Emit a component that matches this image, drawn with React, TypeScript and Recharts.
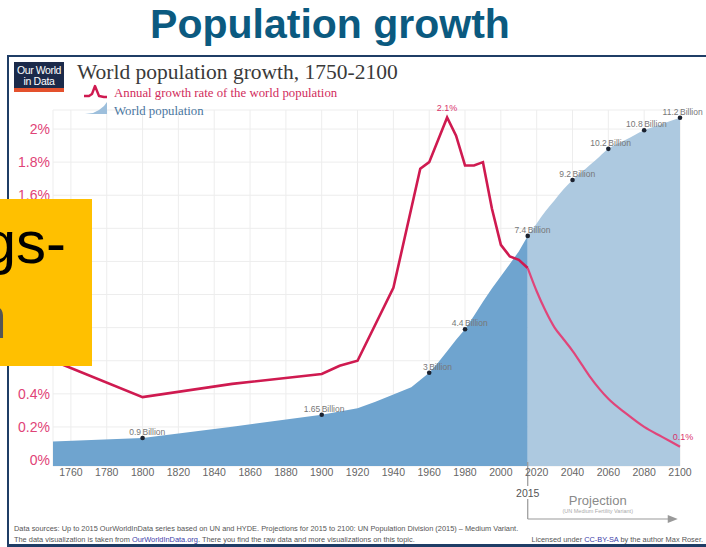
import React from "react";
import {
  ComposedChart,
  Area,
  Line,
  XAxis,
  YAxis,
  CartesianGrid,
  LabelList,
  ReferenceLine,
} from "recharts";

// values (population in billions, growth in % per year)
const historyYears = [
  1750, 1800, 1850, 1900, 1910, 1920, 1930, 1940, 1950, 1955, 1960, 1965,
  1970, 1975, 1980, 1985, 1990, 1995, 2000, 2005, 2010, 2015,
];
const historyPopulation = [
  0.79, 0.9, 1.26, 1.65, 1.75, 1.86, 2.07, 2.3, 2.53, 2.77, 3.0, 3.33, 3.69,
  4.06, 4.4, 4.83, 5.28, 5.71, 6.1, 6.5, 6.9, 7.4,
];
const historyGrowth = [
  0.6, 0.38, 0.46, 0.52, 0.57, 0.6, null, 1.04, null, 1.76, 1.8, null, 2.07,
  1.96, 1.78, 1.78, 1.8, 1.52, 1.3, 1.23, 1.21, 1.16,
];

const projectionYears = [
  2015, 2020, 2025, 2030, 2035, 2040, 2045, 2050, 2055, 2060, 2070, 2080, 2090,
  2100,
];
const projectionPopulation = [
  7.4, 7.8, 8.2, 8.55, 8.9, 9.2, 9.45, 9.7, 9.95, 10.2, 10.5, 10.8, 11.0, 11.2,
];
const projectionGrowth = [
  1.16, 1.02, 0.9, 0.8, 0.73, 0.66, 0.58, 0.5, 0.43, 0.37, 0.28, 0.2, 0.14,
  0.08,
];

const markYears = [1800, 1900, 1960, 1980, 2015, 2040, 2060, 2080, 2100];
const markValues = [0.9, 1.65, 3, 4.4, 7.4, 9.2, 10.2, 10.8, 11.2];
const markLabels = ["0.9", "1.65", "3", "4.4", "7.4", "9.2", "10.2", "10.8", "11.2"];

const yearTicks = [
  1760, 1780, 1800, 1820, 1840, 1860, 1880, 1900, 1920, 1940, 1960, 1980,
  2000, 2020, 2040, 2060, 2080, 2100,
];
const growthTicks = [0, 0.2, 0.4, 0.6, 0.8, 1, 1.2, 1.4, 1.6, 1.8, 2];

const peakLabel = "2.1%";
const endLabel = "0.1%";

const allYears = Array.from(new Set([...historyYears, ...projectionYears])).sort(
  (a, b) => a - b
);
const chartData = allYears.map((year) => {
  const h = historyYears.indexOf(year);
  const p = projectionYears.indexOf(year);
  const m = markYears.indexOf(year);
  return {
    year,
    popHistory: h >= 0 ? historyPopulation[h] : null,
    popProjection: p >= 0 ? projectionPopulation[p] : null,
    growthHistory: h >= 0 ? historyGrowth[h] : null,
    growthProjection: p >= 0 ? projectionGrowth[p] : null,
    mark: m >= 0 ? markValues[m] : null,
    markLabel: m >= 0 ? markLabels[m] : null,
  };
});

const peakGrowth = Math.max(...(historyGrowth.filter((v) => v != null) as number[]));
const lastGrowth = projectionGrowth[projectionGrowth.length - 1];

const SANS = "'Liberation Sans', Arial, Helvetica, sans-serif";
const SERIF = "'Liberation Serif', 'DejaVu Serif', Georgia, serif";

function ProjectionMarker(props: any) {
  const x = props.x1;
  const bottom = Math.max(props.y1, props.y2);
  const arrowLen = 150;
  return (
    <g>
      <line x1={x} x2={x} y1={bottom - 4} y2={bottom + 20} stroke="#999" strokeWidth={1.2} />
      <text x={x} y={bottom + 31} textAnchor="middle" fontSize={10.5} fill="#555" fontFamily={SANS}>
        2015
      </text>
      <line x1={x} x2={x} y1={bottom + 33} y2={bottom + 53} stroke="#999" strokeWidth={1.2} />
      <line x1={x} x2={x + arrowLen - 6} y1={bottom + 53} y2={bottom + 53} stroke="#999" strokeWidth={1.2} />
      <polygon
        points={`${x + arrowLen},${bottom + 53} ${x + arrowLen - 10},${bottom + 49} ${x + arrowLen - 10},${bottom + 57}`}
        fill="#999"
      />
      <text x={x + 70} y={bottom + 39} textAnchor="middle" fontSize={13} fill="#8a8a8a" fontFamily={SANS}>
        Projection
      </text>
      <text x={x + 70} y={bottom + 47} textAnchor="middle" fontSize={5.5} fill="#aaa" fontFamily={SANS}>
        (UN Medium Fertility Variant)
      </text>
    </g>
  );
}

function MarkLabel(props: any) {
  const { x, y, value } = props;
  if (value == null || x == null || y == null) return null;
  return (
    <g fontSize={8.5} fill="#777" fontFamily={SANS}>
      <text x={x - 1.5} y={y - 3} textAnchor="end">
        {value}
      </text>
      <text x={x} y={y - 3} textAnchor="start">
        Billion
      </text>
    </g>
  );
}

function PeakLabel(props: any) {
  const { x, y, value } = props;
  if (value !== peakGrowth) return null;
  return (
    <text x={x} y={y - 6} textAnchor="middle" fontSize={9} fill="#d9336b" fontFamily={SANS}>
      {peakLabel}
    </text>
  );
}

function EndLabel(props: any) {
  const { x, y, value } = props;
  if (value !== lastGrowth) return null;
  return (
    <text x={x + 3} y={y - 7} textAnchor="middle" fontSize={9} fill="#d9336b" fontFamily={SANS}>
      {endLabel}
    </text>
  );
}

export default function App() {
  return (
    <div
      style={{
        position: "absolute",
        left: 0,
        top: 0,
        width: 706,
        height: 547,
        overflow: "hidden",
        background: "#fff",
        fontFamily: SANS,
      }}
    >
      <div
        style={{
          position: "absolute",
          left: 7,
          top: 55,
          width: 720,
          height: 487,
          borderLeft: "2px solid #1f3d66",
          borderTop: "2px solid #1f3d66",
          borderBottom: "3px solid #1f3d66",
        }}
      />

      <div style={{ position: "absolute", left: 0, top: 0 }}>
        <ComposedChart
          width={706}
          height={547}
          data={chartData}
          margin={{ top: 110, right: 26, bottom: 61, left: 0 }}
        >
          <CartesianGrid yAxisId="growth" stroke="#ededed" />
          <XAxis
            dataKey="year"
            type="number"
            domain={[1750, 2100]}
            ticks={yearTicks}
            interval={0}
            height={20}
            axisLine={false}
            tickLine={false}
            tickSize={0}
            tickMargin={3}
            tick={{ fontSize: 10.5, fill: "#666", fontFamily: SANS }}
          />
          <YAxis
            yAxisId="growth"
            domain={[-0.036, 2.115]}
            ticks={growthTicks}
            width={53}
            axisLine={false}
            tickLine={false}
            tickSize={0}
            tickMargin={3}
            tickFormatter={(v) => `${v}%`}
            tick={{ fontSize: 14, fill: "#df4377", fontFamily: SANS }}
          />
          <YAxis yAxisId="pop" orientation="right" hide domain={[0, 11.45]} />

          <Area
            yAxisId="pop"
            dataKey="popHistory"
            type="linear"
            stroke="none"
            fill="#6fa4cf"
            fillOpacity={1}
            isAnimationActive={false}
          />
          <Area
            yAxisId="pop"
            dataKey="popProjection"
            type="monotone"
            stroke="none"
            fill="#adc9e0"
            fillOpacity={1}
            isAnimationActive={false}
          />

          <ReferenceLine yAxisId="pop" x={2015} shape={ProjectionMarker} />

          <Line
            yAxisId="growth"
            dataKey="growthHistory"
            type="linear"
            stroke="#cf1a50"
            strokeWidth={2.6}
            dot={false}
            activeDot={false}
            connectNulls
            isAnimationActive={false}
          >
            <LabelList dataKey="growthHistory" content={PeakLabel} />
          </Line>
          <Line
            yAxisId="growth"
            dataKey="growthProjection"
            type="monotone"
            stroke="#e0457a"
            strokeWidth={2.2}
            dot={false}
            activeDot={false}
            connectNulls
            isAnimationActive={false}
          >
            <LabelList dataKey="growthProjection" content={EndLabel} />
          </Line>

          <Line
            yAxisId="pop"
            dataKey="mark"
            stroke="none"
            dot={{ r: 2.3, fill: "#1b2230", stroke: "none" }}
            activeDot={false}
            isAnimationActive={false}
          >
            <LabelList dataKey="markLabel" content={MarkLabel} />
          </Line>
        </ComposedChart>
      </div>

      <svg
        width={706}
        height={547}
        style={{ position: "absolute", left: 0, top: 0, pointerEvents: "none" }}
      >
        <text x={330} y={38} textAnchor="middle" fontSize={41} fontWeight="bold" fill="#0b5a80" fontFamily={SANS}>
          Population growth
        </text>

        <rect x={14} y={62} width={50} height={27} fill="#1b2a4a" />
        <rect x={14} y={88} width={50} height={4} fill="#e4512d" />
        <text x={39} y={74} textAnchor="middle" fontSize={10.5} fill="#fff" letterSpacing={-0.4} fontFamily={SANS}>
          Our World
        </text>
        <text x={39} y={85} textAnchor="middle" fontSize={10.5} fill="#fff" letterSpacing={-0.3} fontFamily={SANS}>
          in Data
        </text>

        <text x={77} y={79} fontSize={21.5} fill="#3a3a3a" fontFamily={SERIF}>
          World population growth, 1750-2100
        </text>

        <polyline
          points="84,96 89,96 92,94 95,86 99,96 104,97 107,97"
          fill="none"
          stroke="#cf1a50"
          strokeWidth={2.4}
          strokeLinejoin="round"
        />
        <text x={114} y={97} fontSize={12.8} fill="#d12c5c" fontFamily={SERIF}>
          Annual growth rate of the world population
        </text>
        <polygon points="85,114 93,113 99,110 104,106 107,102 107,114" fill="#9dbfdc" />
        <text x={114} y={115} fontSize={12.8} fill="#4a76a0" fontFamily={SERIF}>
          World population
        </text>

        <text x={14} y={531} fontSize={7.4} fill="#555" fontFamily={SANS}>
          Data sources:  Up to 2015 OurWorldInData series based on UN and HYDE. Projections for 2015 to 2100: UN Population Division (2015) – Medium Variant.
        </text>
        <text x={14} y={542} fontSize={7.4} fill="#555" fontFamily={SANS}>
          The data visualization is taken from <tspan fill="#3c3ca8">OurWorldInData.org</tspan>. There you find the raw data and more visualizations on this topic.
        </text>
        <text x={703} y={542} textAnchor="end" fontSize={7.4} fill="#555" fontFamily={SANS}>
          Licensed under <tspan fill="#3c3ca8">CC-BY-SA</tspan> by the author Max Roser.
        </text>
      </svg>

      <div
        style={{
          position: "absolute",
          left: 0,
          top: 199,
          width: 92,
          height: 167,
          background: "#ffc000",
          overflow: "hidden",
        }}
      >
        <svg width={92} height={167}>
          <text x={66} y={64} textAnchor="end" fontSize={60} fill="#000" fontFamily={SANS}>
            Bevölkerungs-
          </text>
          <text x={7} y={139} textAnchor="end" fontSize={60} fill="#555" fontFamily={SANS}>
            wachstum
          </text>
        </svg>
      </div>
    </div>
  );
}
